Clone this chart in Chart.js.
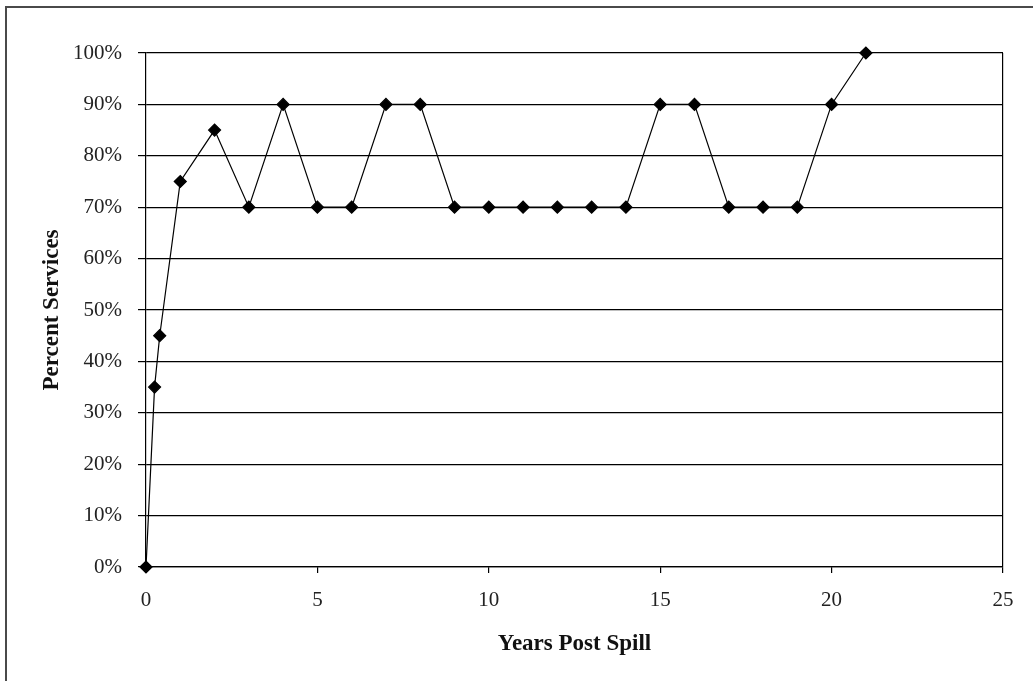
<!DOCTYPE html>
<html>
<head>
<meta charset="utf-8">
<script src="https://cdn.jsdelivr.net/npm/chart.js@4/dist/chart.umd.min.js"></script>
<style>
  html, body { margin: 0; padding: 0; background: #fff; overflow: hidden; }
  #wrap { position: relative; width: 1033px; height: 681px; }
  #frame { position: absolute; left: 5px; top: 6px; width: 1100px; height: 800px;
           border: 2px solid #4a4a4a; box-sizing: border-box; }
  #chart { position: absolute; left: 0; top: 0; }
</style>
</head>
<body>
<div id="wrap">
  <div id="frame"></div>
  <canvas id="chart" width="1033" height="681"></canvas>
</div>
<script>
// years after the spill and share of services recovered (%)
const years = [0, 0.25, 0.4, 1, 2, 3, 4, 5, 6, 7, 8, 9, 10, 11, 12, 13, 14, 15, 16, 17, 18, 19, 20, 21];
const services = [0, 35, 45, 75, 85, 70, 90, 70, 70, 90, 90, 70, 70, 70, 70, 70, 70, 90, 90, 70, 70, 70, 90, 100];

const xTicks = [0, 5, 10, 15, 20, 25];
const yTicks = [0, 10, 20, 30, 40, 50, 60, 70, 80, 90, 100];

const points = years.map((x, i) => ({ x: x, y: services[i] }));
const serif = 'Liberation Serif, Times New Roman, serif';

new Chart(document.getElementById('chart'), {
    type: 'line',
    data: {
        datasets: [{
            data: points,
            borderColor: '#000',
            borderWidth: 1.2,
            backgroundColor: '#000',
            pointStyle: 'rectRot',
            pointRadius: 6,
            pointBackgroundColor: '#000',
            pointBorderColor: '#000',
            tension: 0,
            clip: false
        }]
    },
    options: {
        responsive: false,
        animation: false,
        layout: { padding: { top: 53, right: 30, bottom: 0, left: 0 } },
        plugins: { legend: { display: false }, tooltip: { enabled: false } },
        scales: {
            x: {
                type: 'linear',
                min: 0,
                max: 25,
                afterBuildTicks: (axis) => { axis.ticks = xTicks.map(v => ({ value: v })); },
                afterFit: (axis) => { axis.height = 114; },
                grid: {
                    color: (ctx) => (ctx.tick && ctx.tick.value === 25) ? '#000' : 'rgba(0,0,0,0)',
                    tickColor: '#000',
                    tickLength: 6,
                    lineWidth: 1.2
                },
                border: { color: '#000', width: 1.2 },
                ticks: {
                    color: '#222',
                    font: { family: serif, size: 21 },
                    padding: 15,
                    maxRotation: 0
                },
                title: {
                    display: true,
                    text: 'Years Post Spill',
                    color: '#111',
                    font: { family: serif, size: 23, weight: 'bold' },
                    padding: { top: 0, bottom: 23 }
                }
            },
            y: {
                min: 0,
                max: 100,
                afterBuildTicks: (axis) => { axis.ticks = yTicks.map(v => ({ value: v })); },
                afterFit: (axis) => { axis.width = 146; },
                grid: { color: '#000', tickColor: '#000', tickLength: 8, lineWidth: 1.2 },
                border: { color: '#000', width: 1.2 },
                ticks: {
                    color: '#222',
                    font: { family: serif, size: 21 },
                    padding: 16,
                    callback: (v) => v + '%'
                },
                title: {
                    display: true,
                    text: 'Percent Services',
                    color: '#111',
                    font: { family: serif, size: 23, weight: 'bold' },
                    padding: { top: 38, bottom: 0 }
                }
            }
        }
    }
});
</script>
</body>
</html>
